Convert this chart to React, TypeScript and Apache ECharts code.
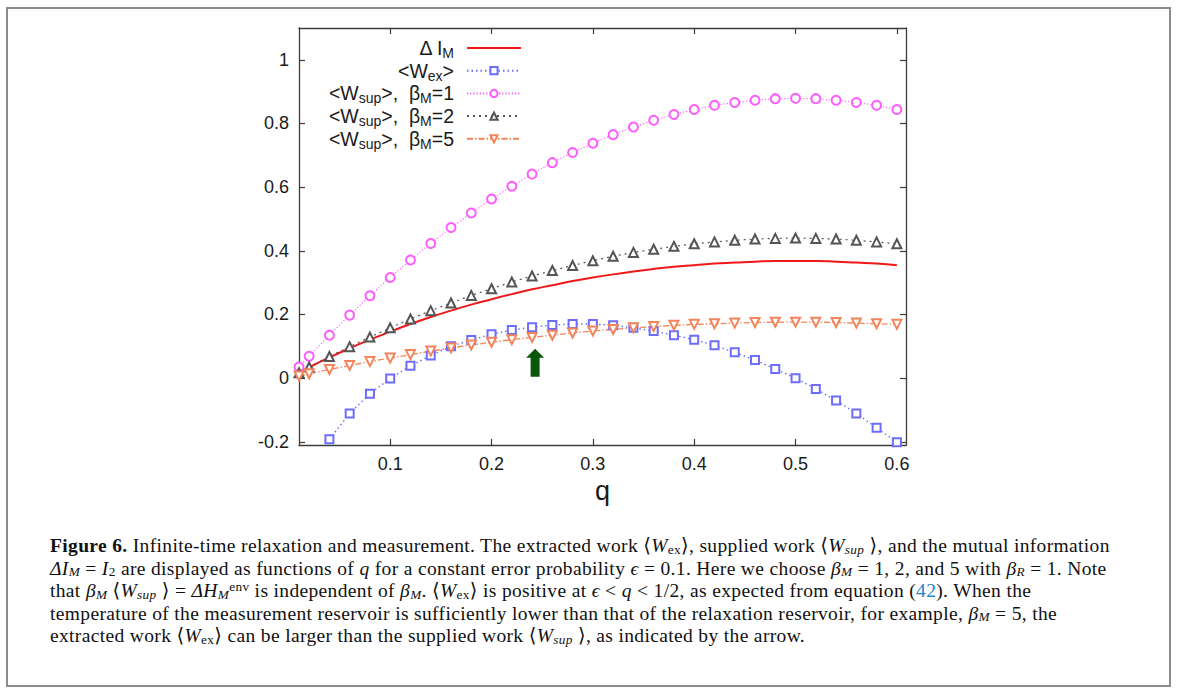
import React, { useEffect, useRef } from 'react';
import * as echarts from 'echarts';

// ---- data ----
const qValues = [0.01, 0.02, 0.04, 0.06, 0.08, 0.1, 0.12, 0.14, 0.16, 0.18, 0.2, 0.22, 0.24, 0.26, 0.28, 0.3, 0.32, 0.34, 0.36, 0.38, 0.4, 0.42, 0.44, 0.46, 0.48, 0.5, 0.52, 0.54, 0.56, 0.58, 0.6];
const deltaIM = [0.017, 0.034, 0.065, 0.094, 0.121, 0.146, 0.17, 0.192, 0.212, 0.231, 0.248, 0.264, 0.279, 0.292, 0.305, 0.316, 0.326, 0.335, 0.343, 0.35, 0.355, 0.36, 0.363, 0.366, 0.368, 0.368, 0.368, 0.366, 0.363, 0.36, 0.355];
const wSup1 = [0.035, 0.069, 0.135, 0.198, 0.259, 0.316, 0.371, 0.423, 0.473, 0.519, 0.563, 0.603, 0.641, 0.677, 0.709, 0.738, 0.765, 0.789, 0.81, 0.828, 0.844, 0.857, 0.866, 0.873, 0.878, 0.879, 0.878, 0.873, 0.866, 0.857, 0.844];
const wSup2 = [0.017, 0.035, 0.068, 0.099, 0.129, 0.158, 0.186, 0.212, 0.236, 0.26, 0.281, 0.302, 0.321, 0.338, 0.354, 0.369, 0.383, 0.395, 0.405, 0.414, 0.422, 0.428, 0.433, 0.437, 0.439, 0.44, 0.439, 0.437, 0.433, 0.428, 0.422];
const wSup5 = [0.007, 0.014, 0.027, 0.04, 0.052, 0.063, 0.074, 0.085, 0.095, 0.104, 0.113, 0.121, 0.128, 0.135, 0.142, 0.148, 0.153, 0.158, 0.162, 0.166, 0.169, 0.171, 0.173, 0.175, 0.176, 0.176, 0.176, 0.175, 0.173, 0.171, 0.169];
const qExValues = [0.04, 0.06, 0.08, 0.1, 0.12, 0.14, 0.16, 0.18, 0.2, 0.22, 0.24, 0.26, 0.28, 0.3, 0.32, 0.34, 0.36, 0.38, 0.4, 0.42, 0.44, 0.46, 0.48, 0.5, 0.52, 0.54, 0.56, 0.58, 0.6];
const wEx = [-0.192, -0.111, -0.049, -0.001, 0.039, 0.071, 0.1, 0.12, 0.138, 0.151, 0.16, 0.167, 0.17, 0.17, 0.166, 0.158, 0.148, 0.135, 0.121, 0.103, 0.081, 0.057, 0.029, 0.0, -0.034, -0.07, -0.111, -0.156, -0.201];
const arrowPoint = [0.243, 0.048];

const xTicks = [0.1, 0.2, 0.3, 0.4, 0.5, 0.6];
const yTicks = [-0.2, 0, 0.2, 0.4, 0.6, 0.8, 1];

const seriesNames = ['Δ I_M', '<W_ex>', '<W_sup>, β_M=1', '<W_sup>, β_M=2', '<W_sup>, β_M=5'];
const legendLabels: Record<string, string> = {
  'Δ I_M': 'Δ I{s|M}',
  '<W_ex>': '<W{s|ex}>',
  '<W_sup>, β_M=1': '<W{s|sup}>,  β{s|M}=1',
  '<W_sup>, β_M=2': '<W{s|sup}>,  β{s|M}=2',
  '<W_sup>, β_M=5': '<W{s|sup}>,  β{s|M}=5',
};

const SANS = '"Liberation Sans", Arial, Helvetica, sans-serif';
const SERIF = '"Liberation Serif", "Times New Roman", "DejaVu Serif", serif';
const AXIS = '#3c3c3c';
const TEXT = '#1a1a1a';

const pairs = (xs: number[], ys: number[]) => xs.map((x, i) => [x, ys[i]]);

function buildOption(): any {
  const xBase = { type: 'value', min: 0.01, max: 0.609, splitLine: { show: false } };
  const yBase = { type: 'value', min: -0.21, max: 1.1, splitLine: { show: false } };
  const lineAxis = { show: true, onZero: false, lineStyle: { color: AXIS, width: 1.3 } };
  const tickStyle = { color: AXIS, width: 1.2 };
  return {
    animation: false,
    grid: { left: 299, top: 28, width: 607, height: 417 },
    xAxis: [
      {
        ...xBase,
        position: 'bottom',
        name: 'q',
        nameLocation: 'middle',
        nameGap: 31,
        nameTextStyle: { fontSize: 27, fontFamily: SANS, color: TEXT },
        axisLine: lineAxis,
        axisTick: { show: true, inside: true, length: 6, customValues: xTicks, lineStyle: tickStyle },
        axisLabel: { show: true, customValues: xTicks, margin: 10, fontSize: 18, fontFamily: SANS, color: TEXT, formatter: (v: number) => v.toFixed(1) },
      },
      {
        ...xBase,
        position: 'top',
        axisLine: lineAxis,
        axisTick: { show: true, inside: true, length: 6, customValues: xTicks, lineStyle: tickStyle },
        axisLabel: { show: false },
      },
    ],
    yAxis: [
      {
        ...yBase,
        position: 'left',
        axisLine: lineAxis,
        axisTick: { show: true, inside: true, length: 6, customValues: yTicks, lineStyle: tickStyle },
        axisLabel: { show: true, customValues: yTicks, margin: 10, fontSize: 18, fontFamily: SANS, color: TEXT, formatter: (v: number) => String(Math.round(v * 10) / 10) },
      },
      {
        ...yBase,
        position: 'right',
        axisLine: lineAxis,
        axisTick: { show: true, inside: true, length: 6, customValues: yTicks, lineStyle: tickStyle },
        axisLabel: { show: false },
      },
    ],
    legend: {
      orient: 'vertical',
      align: 'right',
      right: 657,
      top: 36,
      padding: 0,
      itemGap: -1.3,
      itemWidth: 54,
      itemHeight: 9,
      selectedMode: false,
      data: [
        { name: seriesNames[0], itemStyle: { opacity: 0 } },
        seriesNames[1],
        seriesNames[2],
        seriesNames[3],
        seriesNames[4],
      ],
      formatter: (name: string) => legendLabels[name] || name,
      textStyle: {
        fontSize: 19.5,
        fontFamily: SANS,
        color: TEXT,
        lineHeight: 22,
        padding: [0, 8, 0, 0],
        rich: {
          s: { fontSize: 14, fontFamily: SANS, color: TEXT, lineHeight: 22, padding: [10, 0, 0, 0] },
        },
      },
    },
    series: [
      {
        name: seriesNames[0],
        type: 'line',
        data: pairs(qValues, deltaIM),
        smooth: true,
        symbol: 'none',
        showSymbol: false,
        lineStyle: { color: '#f01818', width: 2 },
        itemStyle: { color: '#f01818' },
        z: 2,
      },
      {
        name: seriesNames[1],
        type: 'line',
        data: pairs(qExValues, wEx),
        symbol: 'emptyRect',
        symbolSize: 8,
        lineStyle: { color: '#6c6cff', width: 1.4, type: [1.5, 3] },
        itemStyle: { color: '#6c6cff', borderColor: '#6c6cff', borderWidth: 1.1 },
        z: 3,
      },
      {
        name: seriesNames[2],
        type: 'line',
        data: pairs(qValues, wSup1),
        symbol: 'emptyCircle',
        symbolSize: 9,
        lineStyle: { color: '#ff5cff', width: 1.1, type: [1.2, 2] },
        itemStyle: { color: '#ff5cff', borderColor: '#ff5cff', borderWidth: 1.1 },
        z: 3,
      },
      {
        name: seriesNames[3],
        type: 'line',
        data: pairs(qValues, wSup2),
        symbol: 'emptyTriangle',
        symbolSize: 9,
        lineStyle: { color: '#555555', width: 1.2, type: [2, 4] },
        itemStyle: { color: '#555555', borderColor: '#555555', borderWidth: 1 },
        z: 3,
      },
      {
        name: seriesNames[4],
        type: 'line',
        data: pairs(qValues, wSup5),
        symbol: 'emptyTriangle',
        symbolRotate: 180,
        symbolSize: 9,
        lineStyle: { color: '#f4845a', width: 1.3, type: [6, 2, 1.5, 2] },
        itemStyle: { color: '#f4845a', borderColor: '#f4845a', borderWidth: 1 },
        z: 3,
      },
      {
        name: 'arrow',
        type: 'scatter',
        data: [arrowPoint],
        symbol: 'path://M9 0L18 9L13.5 9L13.5 28L4.5 28L4.5 9L0 9Z',
        symbolSize: [18, 28],
        itemStyle: { color: '#0a560a', opacity: 1 },
        silent: true,
        z: 5,
      },
    ],
  };
}

const subStyle: React.CSSProperties = { fontSize: '0.68em', position: 'relative', top: '0.12em', lineHeight: 0, verticalAlign: 'baseline' };
const Sub = ({ children, italic }: { children: React.ReactNode; italic?: boolean }) => (
  <span style={{ ...subStyle, fontStyle: italic ? 'italic' : 'normal' }}>{children}</span>
);
const I = ({ children }: { children: React.ReactNode }) => <span style={{ fontStyle: 'italic' }}>{children}</span>;

export default function App() {
  const ref = useRef<HTMLDivElement>(null);
  useEffect(() => {
    document.body.style.margin = '0';
    const chart = echarts.init(ref.current as HTMLDivElement, undefined, { renderer: 'svg' });
    chart.setOption(buildOption());
    return () => chart.dispose();
  }, []);

  const lineStyle: React.CSSProperties = { height: 22.6, whiteSpace: 'nowrap' };
  return (
    <div style={{ position: 'relative', width: 1179, height: 691, background: '#fff', overflow: 'hidden' }}>
      <div ref={ref} style={{ position: 'absolute', left: 0, top: 0, width: 1179, height: 691 }} />
      <div style={{ position: 'absolute', left: 6, top: 7, width: 1161, height: 676, border: '2px solid #8c8c8c', pointerEvents: 'none' }} />
      <div style={{ position: 'absolute', left: 50, top: 535, fontFamily: SERIF, fontSize: 19.5, letterSpacing: '0.35px', lineHeight: '22.6px', color: '#111' }}>
        <div style={lineStyle}>
          <b>Figure 6.</b> Infinite-time relaxation and measurement. The extracted work ⟨<I>W</I><Sub>ex</Sub>⟩, supplied work ⟨<I>W</I><Sub italic>sup</Sub> ⟩, and the mutual information
        </div>
        <div style={lineStyle}>
          <I>ΔI</I><Sub italic>M</Sub> = <I>I</I><Sub>2</Sub> are displayed as functions of <I>q</I> for a constant error probability <I>ϵ</I> = 0.1. Here we choose <I>β</I><Sub italic>M</Sub> = 1, 2, and 5 with <I>β</I><Sub italic>R</Sub> = 1. Note
        </div>
        <div style={lineStyle}>
          that <I>β</I><Sub italic>M</Sub> ⟨<I>W</I><Sub italic>sup</Sub> ⟩ = <I>ΔH</I><Sub italic>M</Sub>
          <span style={{ fontSize: '0.68em', position: 'relative', top: '-0.45em', lineHeight: 0 }}>env</span>{' '}
          is independent of <I>β</I><Sub italic>M</Sub>. ⟨<I>W</I><Sub>ex</Sub>⟩ is positive at <I>ϵ</I> &lt; <I>q</I> &lt; 1/2, as expected from equation (<span style={{ color: '#1f86c8' }}>42</span>). When the
        </div>
        <div style={lineStyle}>
          temperature of the measurement reservoir is sufficiently lower than that of the relaxation reservoir, for example, <I>β</I><Sub italic>M</Sub> = 5, the
        </div>
        <div style={lineStyle}>
          extracted work ⟨<I>W</I><Sub>ex</Sub>⟩ can be larger than the supplied work ⟨<I>W</I><Sub italic>sup</Sub> ⟩, as indicated by the arrow.
        </div>
      </div>
    </div>
  );
}
